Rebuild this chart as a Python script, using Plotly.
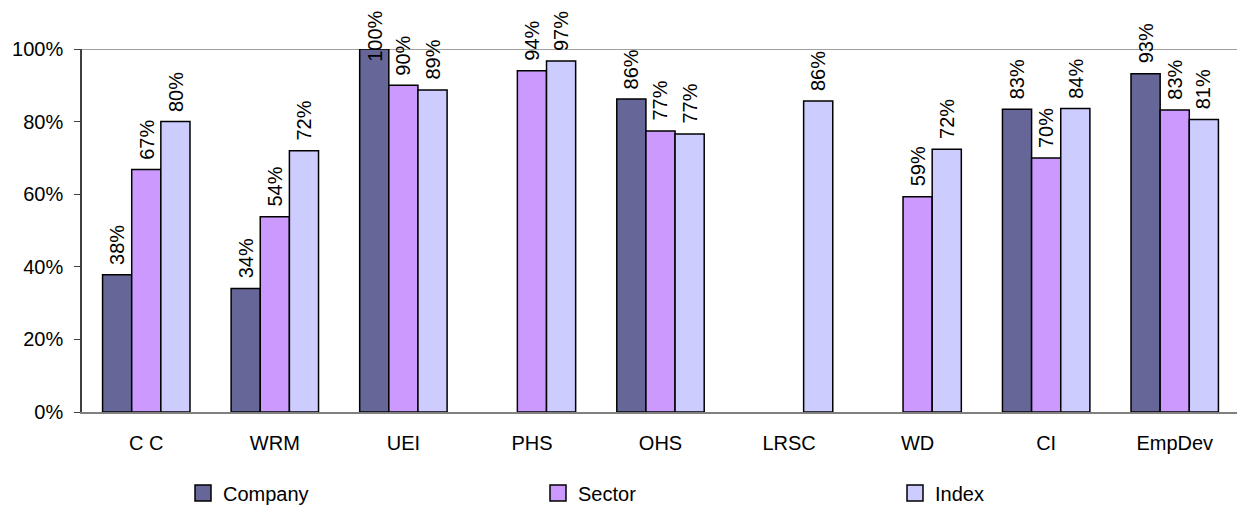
import plotly.graph_objects as go

categories = ["C C", "WRM", "UEI", "PHS", "OHS", "LRSC", "WD", "CI", "EmpDev"]
company = [0.378, 0.34, 1.0, None, 0.862, None, None, 0.834, 0.932]
sector = [0.668, 0.538, 0.90, 0.94, 0.774, None, 0.593, 0.70, 0.832]
index_ = [0.80, 0.72, 0.887, 0.967, 0.766, 0.857, 0.724, 0.836, 0.806]
y_ticks = [0, 0.2, 0.4, 0.6, 0.8, 1.0]
y_tick_labels = ["0%", "20%", "40%", "60%", "80%", "100%"]

# figure frame (page body has an 8px margin)
W, H = 1237, 499
ML, MR, MT, MB = 74, 6, 41, 95
BARGAP = 0.32
FONT = "Liberation Sans, Arial, sans-serif"
FS = 20

series = [("Company", company, "#666699", "legend", 175),
          ("Sector", sector, "#CC99FF", "legend2", 530),
          ("Index", index_, "#CCCCFF", "legend3", 887)]

plot_w = W - ML - MR
plot_h = H - MT - MB
bar_px = plot_w / len(categories) * (1 - BARGAP) / len(series)
LABEL_GAP = 8
TOP_LIMIT = 4  # px from figure top where labels get clamped

fig = go.Figure()
legends = {}
annotations = []
for i, (name, vals, col, leg, lx) in enumerate(series):
    fig.add_trace(go.Bar(
        x=categories, y=vals, name=name, showlegend=False,
        marker=dict(color=col, line=dict(color="black", width=1.5)),
    ))
    # legend swatch (larger square, like the original)
    fig.add_trace(go.Scatter(
        x=[None], y=[None], mode="markers", name=name, legend=leg, hoverinfo="skip",
        marker=dict(symbol="square", size=20, color=col, line=dict(color="black", width=1.5)),
    ))
    legends[leg] = dict(xref="container", yref="container", x=lx / W, xanchor="left",
                        y=(H - 485) / H, yanchor="middle", bgcolor="rgba(0,0,0,0)",
                        font=dict(family=FONT, size=FS), itemsizing="trace")
    for cat, v in zip(categories, vals):
        if v is None:
            continue
        txt = f"{round(v * 100)}%"
        text_len = 13 * len(txt)
        top_px = MT + (1 - v) * plot_h - LABEL_GAP - text_len
        shift = LABEL_GAP + min(0, top_px - TOP_LIMIT)
        annotations.append(dict(
            x=cat, y=v, xref="x", yref="y", text=txt, showarrow=False, textangle=-90,
            xanchor="center", yanchor="bottom", xshift=(i - 1) * bar_px, yshift=shift,
            font=dict(family=FONT, size=FS, color="black"),
        ))

fig.add_hline(y=1.0, line=dict(color="#808080", width=1.5), layer="below")

fig.update_layout(
    width=W, height=H,
    margin=dict(l=ML, r=MR, t=MT, b=MB, autoexpand=False),
    paper_bgcolor="white", plot_bgcolor="white",
    barmode="group", bargap=BARGAP, bargroupgap=0,
    font=dict(family=FONT, size=FS, color="black"),
    showlegend=True,
    annotations=annotations,
    xaxis=dict(showline=True, linecolor="#808080", linewidth=1.5, ticks="", automargin=False,
               tickfont=dict(family=FONT, size=FS), ticklabelstandoff=12),
    yaxis=dict(range=[0, 1], tickvals=y_ticks, ticktext=y_tick_labels, automargin=False,
               showgrid=False, zeroline=False, showline=True, linecolor="#404040", linewidth=1.5,
               ticks="outside", ticklen=6, tickcolor="#404040", ticklabelstandoff=7,
               tickfont=dict(family=FONT, size=FS)),
    **legends,
)

fig.write_html("out.html")
